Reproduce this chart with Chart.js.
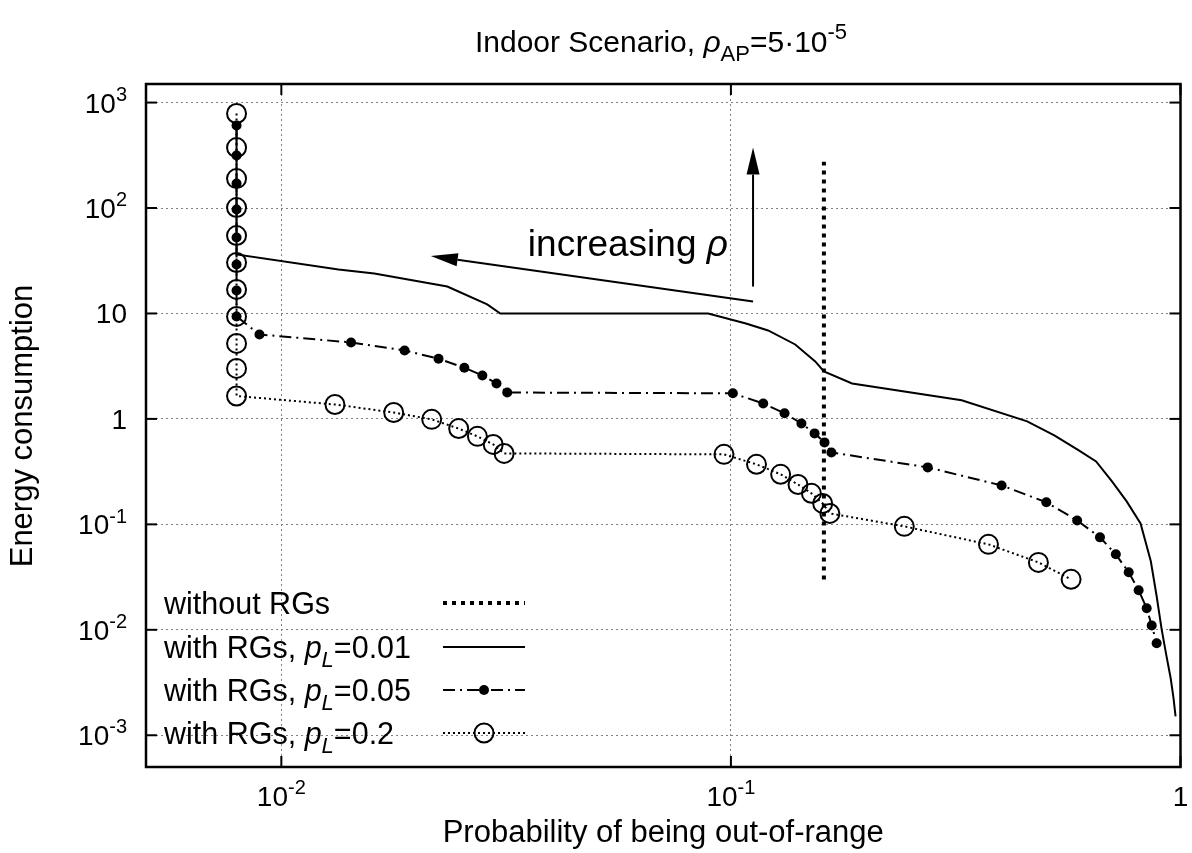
<!DOCTYPE html>
<html>
<head>
<meta charset="utf-8">
<script src="https://cdn.jsdelivr.net/npm/chart.js@4.4.1/dist/chart.umd.min.js"></script>
<style>
  html, body { margin: 0; padding: 0; background: #fff; }
</style>
</head>
<body>
<canvas id="chart" width="1192" height="853"></canvas>
<script>
// ── Data ────────────────────────────────────────────────────────────────────
const X_TICKS = [0.01, 0.1, 1];
const Y_TICKS = [1e-3, 1e-2, 1e-1, 1, 10, 100, 1000];

// without RGs
const NORG_X = [0.161, 0.161];
const NORG_Y = [0.030, 275];

// with RGs, pL = 0.01 (solid)
const P001_X = [0.00795, 0.00795, 0.0134, 0.0161, 0.0234, 0.0287, 0.0307, 0.089, 0.108, 0.121,
                0.139, 0.154, 0.161, 0.186, 0.326, 0.456, 0.524, 0.594, 0.649, 0.704,
                0.759, 0.815, 0.859, 0.885, 0.908, 0.931, 0.951, 0.965, 0.975];
const P001_Y = [605, 36.3, 26.1, 23.9, 18.0, 12.2, 10, 10, 8.04, 6.9,
                5.08, 3.51, 2.82, 2.17, 1.50, 0.947, 0.698, 0.503, 0.395, 0.256,
                0.165, 0.102, 0.0446, 0.0208, 0.0101, 0.0056, 0.00347, 0.00224, 0.00151];

// with RGs, pL = 0.05 (dash-dot, filled dots)
const P005_X = [0.00795, 0.00795, 0.00795, 0.00795, 0.00795, 0.00795, 0.00795, 0.00795,
                0.00894, 0.01429, 0.0188, 0.02237, 0.02553, 0.0280, 0.0301, 0.0318,
                0.101, 0.118, 0.1316, 0.1435, 0.1535, 0.1615, 0.1673, 0.274, 0.400,
                0.503, 0.589, 0.662, 0.718, 0.767, 0.807, 0.841, 0.863, 0.885];
const P005_Y = [605, 315, 171, 97, 52.5, 29.1, 16.5, 9.37,
                6.32, 5.31, 4.46, 3.72, 3.06, 2.58, 2.17, 1.78,
                1.75, 1.40, 1.13, 0.906, 0.729, 0.599, 0.481, 0.347, 0.234,
                0.162, 0.109, 0.0753, 0.052, 0.0351, 0.0237, 0.0160, 0.0110, 0.00745];

// with RGs, pL = 0.2 (dotted, open circles)
const P02_X = [0.00795, 0.00795, 0.00795, 0.00795, 0.00795, 0.00795, 0.00795, 0.00795,
               0.00795, 0.00795, 0.00795, 0.01316, 0.01778, 0.0216, 0.0248, 0.0273,
               0.0296, 0.0313, 0.0965, 0.114, 0.129, 0.141, 0.151, 0.160, 0.166,
               0.243, 0.374, 0.483, 0.571];
const P02_Y = [787, 374, 190, 101, 54.8, 30.4, 16.9, 9.37,
               5.2, 3.01, 1.65, 1.37, 1.15, 0.99, 0.81, 0.683,
               0.573, 0.471, 0.461, 0.371, 0.298, 0.239, 0.197, 0.158, 0.127,
               0.0957, 0.0646, 0.0436, 0.0301];

// annotation anchors in data units
const ARROW_LEFT  = { from: [0.112, 13.0], to: [0.0215, 35.1] };
const ARROW_UP    = { from: [0.112, 18.0], to: [0.112, 374] };
const NOTE_AT     = [0.0985, 34.7];

const FONT = '"Liberation Sans", Arial, Helvetica, sans-serif';

// ── Helpers ─────────────────────────────────────────────────────────────────
const pts = (xs, ys) => xs.map((x, i) => ({ x, y: ys[i] }));

function fontFor(p, size) {
  const s = (p.sub || p.sup) ? Math.round(size * 0.72) : size;
  return (p.it ? 'italic ' : '') + s + 'px ' + FONT;
}

function drawRich(ctx, parts, x, y, size, align) {
  let w = 0;
  parts.forEach(p => { ctx.font = fontFor(p, size); w += ctx.measureText(p.t).width; });
  let cx = align === 'center' ? x - w / 2 : align === 'right' ? x - w : x;
  ctx.textAlign = 'left';
  ctx.textBaseline = 'alphabetic';
  parts.forEach(p => {
    ctx.font = fontFor(p, size);
    const dy = p.sub ? size * 0.3 : p.sup ? -size * 0.42 : 0;
    ctx.fillText(p.t, cx, y + dy);
    cx += ctx.measureText(p.t).width;
  });
}

function tickParts(v) {
  if (v === 1) return [{ t: '1' }];
  if (v === 10) return [{ t: '10' }];
  return [{ t: '10' }, { t: String(Math.round(Math.log10(v))), sup: true }];
}

function seg(ctx, x1, y1, x2, y2) {
  ctx.beginPath(); ctx.moveTo(x1, y1); ctx.lineTo(x2, y2); ctx.stroke();
}

function arrow(ctx, x1, y1, x2, y2) {
  const ang = Math.atan2(y2 - y1, x2 - x1);
  const len = 27, hw = 6.5;
  const bx = x2 - len * Math.cos(ang), by = y2 - len * Math.sin(ang);
  seg(ctx, x1, y1, bx, by);
  ctx.beginPath();
  ctx.moveTo(x2, y2);
  ctx.lineTo(bx + hw * Math.sin(ang), by - hw * Math.cos(ang));
  ctx.lineTo(bx - hw * Math.sin(ang), by + hw * Math.cos(ang));
  ctx.closePath();
  ctx.fill();
}

// ── Decorations: frame, ticks, labels, legend, annotations ────────────────
const decor = {
  id: 'decor',
  afterDraw(chart) {
    const { ctx, chartArea: a, scales: { x, y } } = chart;
    ctx.save();
    ctx.strokeStyle = '#000';
    ctx.fillStyle = '#000';
    ctx.setLineDash([]);

    // inner tick marks
    ctx.lineWidth = 2;
    Y_TICKS.forEach(v => {
      const py = y.getPixelForValue(v);
      seg(ctx, a.left, py, a.left + 11, py);
      seg(ctx, a.right, py, a.right - 11, py);
    });
    X_TICKS.forEach(v => {
      const px = x.getPixelForValue(v);
      seg(ctx, px, a.bottom, px, a.bottom - 11);
      seg(ctx, px, a.top, px, a.top + 11);
    });

    // frame
    ctx.lineWidth = 2.5;
    ctx.strokeRect(a.left, a.top, a.right - a.left, a.bottom - a.top);

    // tick labels
    Y_TICKS.forEach(v => {
      drawRich(ctx, tickParts(v), a.left - 19, y.getPixelForValue(v) + 10, 28, 'right');
    });
    X_TICKS.forEach(v => {
      drawRich(ctx, tickParts(v), x.getPixelForValue(v), a.bottom + 39, 28, 'center');
    });

    // axis titles
    drawRich(ctx, [{ t: 'Probability of being out-of-range' }], (a.left + a.right) / 2, 842, 31, 'center');
    ctx.save();
    ctx.translate(32, 426);
    ctx.rotate(-Math.PI / 2);
    drawRich(ctx, [{ t: 'Energy consumption' }], 0, 0, 31, 'center');
    ctx.restore();

    // title
    drawRich(ctx, [
      { t: 'Indoor Scenario, ' }, { t: 'ρ', it: true }, { t: 'AP', sub: true },
      { t: '=5·10' }, { t: '-5', sup: true }
    ], 661, 52, 30, 'center');

    // legend
    const rows = [603, 647, 690, 733];
    const lx0 = 443, lx1 = 525, lxm = 484, tx = 164;
    const labels = ['0.01', '0.05', '0.2'];
    drawRich(ctx, [{ t: 'without RGs' }], tx, rows[0] + 11, 30.5, 'left');
    labels.forEach((l, i) => {
      drawRich(ctx, [{ t: 'with RGs, ' }, { t: 'p', it: true }, { t: 'L', it: true, sub: true }, { t: '=' + l }],
        tx, rows[i + 1] + 11, 30.5, 'left');
    });
    ctx.lineWidth = 4; ctx.setLineDash([4, 5]);
    seg(ctx, lx0, rows[0], lx1, rows[0]);
    ctx.lineWidth = 2; ctx.setLineDash([]);
    seg(ctx, lx0, rows[1], lx1, rows[1]);
    ctx.setLineDash([12, 5, 2, 5]);
    seg(ctx, lx0, rows[2], lx1, rows[2]);
    ctx.setLineDash([2, 3]);
    seg(ctx, lx0, rows[3], lx1, rows[3]);
    ctx.setLineDash([]);
    ctx.beginPath(); ctx.arc(lxm, rows[2], 5, 0, Math.PI * 2); ctx.fill();
    ctx.beginPath(); ctx.arc(lxm, rows[3], 9.5, 0, Math.PI * 2); ctx.stroke();

    // annotations
    ctx.lineWidth = 2;
    arrow(ctx, x.getPixelForValue(ARROW_LEFT.from[0]), y.getPixelForValue(ARROW_LEFT.from[1]),
               x.getPixelForValue(ARROW_LEFT.to[0]), y.getPixelForValue(ARROW_LEFT.to[1]));
    arrow(ctx, x.getPixelForValue(ARROW_UP.from[0]), y.getPixelForValue(ARROW_UP.from[1]),
               x.getPixelForValue(ARROW_UP.to[0]), y.getPixelForValue(ARROW_UP.to[1]));
    drawRich(ctx, [{ t: 'increasing ' }, { t: 'ρ', it: true }],
      x.getPixelForValue(NOTE_AT[0]), y.getPixelForValue(NOTE_AT[1]), 37, 'right');

    ctx.restore();
  }
};

// ── Chart ─────────────────────────────────────────────────────────────────
const axisBase = {
  type: 'logarithmic',
  ticks: { display: false },
  grid: { color: '#808080', lineWidth: 1, drawTicks: false },
  border: { display: false, dash: [2, 3] }
};

new Chart(document.getElementById('chart'), {
  type: 'scatter',
  data: {
    datasets: [
      { label: 'without RGs', data: pts(NORG_X, NORG_Y), showLine: true,
        borderColor: '#000', borderWidth: 4, borderDash: [4, 5], pointRadius: 0 },
      { label: 'with RGs, pL=0.01', data: pts(P001_X, P001_Y), showLine: true,
        borderColor: '#000', borderWidth: 2, pointRadius: 0 },
      { label: 'with RGs, pL=0.05', data: pts(P005_X, P005_Y), showLine: true,
        borderColor: '#000', borderWidth: 2, borderDash: [12, 5, 2, 5],
        pointRadius: 5, pointBackgroundColor: '#000', pointBorderWidth: 0 },
      { label: 'with RGs, pL=0.2', data: pts(P02_X, P02_Y), showLine: true,
        borderColor: '#000', borderWidth: 2, borderDash: [2, 3],
        pointRadius: 9.5, pointBackgroundColor: 'rgba(255,255,255,0)',
        pointBorderColor: '#000', pointBorderWidth: 2 }
    ]
  },
  options: {
    responsive: false,
    animation: false,
    layout: { padding: { left: 146, right: 6, top: 84, bottom: 86 } },
    plugins: { legend: { display: false }, tooltip: { enabled: false } },
    scales: {
      x: { ...axisBase, min: 0.005, max: 1,
           afterBuildTicks: s => { s.ticks = X_TICKS.map(v => ({ value: v })); } },
      y: { ...axisBase, min: 0.0005, max: 1500,
           afterBuildTicks: s => { s.ticks = Y_TICKS.map(v => ({ value: v })); } }
    }
  },
  plugins: [decor]
});
</script>
</body>
</html>
